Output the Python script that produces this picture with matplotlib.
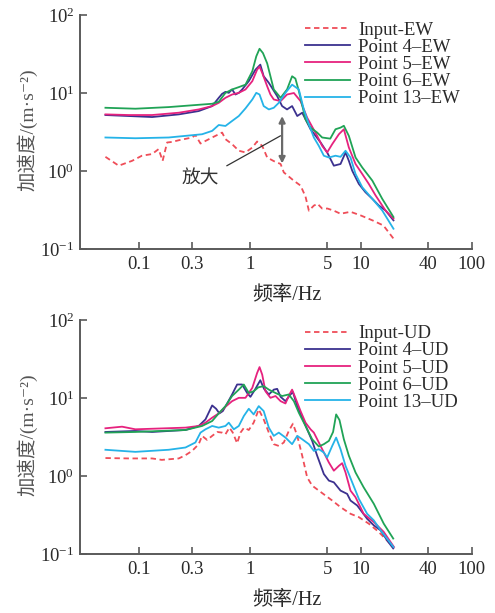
import matplotlib
matplotlib.use("Agg")
import matplotlib.pyplot as plt
from matplotlib.ticker import FixedLocator, FixedFormatter, NullLocator

plt.rcParams['font.family'] = ['Liberation Serif', 'Noto Sans CJK SC', 'DejaVu Sans']
plt.rcParams['mathtext.fontset'] = 'stix'

# ---------------- EW direction ----------------
f_in_ew = [0.0497, 0.0655, 0.0864, 0.106, 0.131, 0.150, 0.163, 0.179, 0.198, 0.228, 0.301, 0.322,
           0.358, 0.397, 0.456, 0.523, 0.561, 0.601, 0.690, 0.793, 0.911, 1.05, 1.16, 1.29, 1.43,
           1.64, 1.89, 2.02, 2.49, 2.86, 3.17, 3.40, 3.77, 4.07, 4.48, 5.01, 5.71, 6.56, 8.07,
           9.94, 13.0, 16.0, 19.7]
a_in_ew = [1.52, 1.17, 1.35, 1.57, 1.65, 1.91, 1.35, 2.32, 2.36, 2.48, 2.69, 2.90,
           2.25, 2.43, 2.69, 2.96, 3.11, 2.56, 2.21, 1.82, 1.73, 2.00, 2.39, 2.10, 1.49,
           1.34, 1.23, 0.96, 0.75, 0.65, 0.47, 0.31, 0.36, 0.38, 0.33, 0.33, 0.31, 0.283, 0.30,
           0.27, 0.23, 0.20, 0.136]

f_p4_ew = [0.0497, 0.0806, 0.131, 0.228, 0.345, 0.456, 0.523, 0.561, 0.601, 0.644, 0.690, 0.740,
           0.793, 0.850, 0.976, 1.12, 1.24, 1.33, 1.48, 1.76, 1.95, 2.16, 2.40, 2.67, 2.96,
           3.17, 3.52, 4.34, 4.97, 5.71, 6.56, 7.28, 7.80, 8.36, 9.60, 11.0, 12.7, 14.5,
           16.7, 19.7]
a_p4_ew = [5.22, 5.07, 4.92, 5.32, 5.87, 6.80, 8.68, 9.76, 10.35, 10.05, 11.1, 9.57,
           10.05, 11.1, 14.2, 19.9, 23.1, 16.4, 13.5, 9.11, 6.80, 6.16, 6.80, 5.07, 5.59,
           4.60, 3.43, 2.32, 1.73, 1.17, 1.23, 1.73, 1.35, 1.01, 0.683, 0.535, 0.440, 0.362,
           0.312, 0.233]

f_p5_ew = [0.0497, 0.0806, 0.131, 0.228, 0.345, 0.456, 0.523, 0.601, 0.690, 0.793, 0.911, 1.05,
           1.16, 1.22, 1.29, 1.43, 1.53, 1.64, 1.89, 2.16, 2.49, 2.86, 3.28, 4.04, 4.48,
           4.97, 5.52, 6.34, 7.03, 7.80, 8.96, 10.3, 11.8, 13.6, 16.7, 19.7]
a_p5_ew = [5.32, 5.22, 5.22, 5.59, 6.16, 6.80, 7.49, 8.68, 9.57, 10.05, 11.1, 14.2,
           19.9, 21.8, 18.1, 12.2, 9.57, 8.26, 7.87, 9.57, 10.0, 7.87, 4.83, 2.82, 2.10,
           1.73, 2.21, 2.96, 3.43, 2.00, 1.23, 0.916, 0.683, 0.485, 0.312, 0.245]

f_p6_ew = [0.0497, 0.0926, 0.185, 0.456, 0.523, 0.601, 0.690, 0.793, 0.911, 1.05, 1.14, 1.22,
           1.31, 1.43, 1.64, 1.89, 2.16, 2.40, 2.57, 2.76, 3.17, 3.52, 4.04, 4.48, 5.30,
           5.91, 6.56, 7.03, 7.80, 8.96, 10.3, 12.7, 15.6, 19.7]
a_p6_ew = [6.47, 6.29, 6.60, 7.28, 7.72, 10.05, 11.1, 11.9, 12.8, 19.0, 29.5, 36.9,
           32.5, 24.0, 11.1, 8.68, 11.1, 16.4, 15.3, 10.6, 4.60, 3.60, 3.11, 2.69, 2.60,
           3.43, 3.60, 3.80, 2.82, 1.49, 1.11, 0.753, 0.440, 0.257]

f_p13_ew = [0.0497, 0.0926, 0.185, 0.370, 0.456, 0.523, 0.601, 0.690, 0.793, 0.911, 1.05, 1.14,
            1.22, 1.33, 1.48, 1.64, 1.82, 2.09, 2.40, 2.76, 3.06, 3.40, 3.77, 4.18, 4.64,
            5.15, 5.91, 6.56, 7.28, 8.07, 8.96, 10.3, 12.7, 15.6, 19.7]
a_p13_ew = [2.69, 2.63, 2.69, 2.96, 3.27, 3.89, 3.78, 4.38, 5.07, 6.35, 8.26, 10.05,
            9.57, 6.80, 6.16, 6.47, 7.49, 10.05, 12.8, 11.1, 6.16, 3.97, 2.69, 2.10, 1.57,
            1.49, 1.57, 1.52, 1.82, 1.49, 0.916, 0.619, 0.440, 0.312, 0.182]

# ---------------- UD direction ----------------
f_in_ud = [0.0497, 0.0806, 0.131, 0.160, 0.228, 0.262, 0.301, 0.345, 0.370, 0.411, 0.456, 0.507,
           0.561, 0.601, 0.653, 0.700, 0.766, 0.822, 0.885, 0.976, 1.08, 1.20, 1.33, 1.48,
           1.64, 1.82, 2.02, 2.24, 2.44, 2.67, 2.96, 3.28, 3.64, 4.18, 4.80, 5.52, 6.56,
           8.07, 9.60, 11.8, 14.5, 19.7]
a_in_ud = [1.70, 1.68, 1.68, 1.61, 1.68, 1.85, 2.10, 2.56, 3.27, 2.90, 3.27, 3.67,
           3.60, 3.43, 4.17, 3.60, 2.63, 3.60, 4.17, 3.89, 4.83, 7.14, 5.32, 3.60,
           2.56, 2.43, 2.69, 3.78, 4.69, 3.27, 1.82, 0.962, 0.753, 0.650, 0.562, 0.485, 0.399,
           0.328, 0.297, 0.245, 0.192, 0.123]

f_p4_ud = [0.0497, 0.0926, 0.131, 0.262, 0.345, 0.397, 0.456, 0.495, 0.530, 0.569, 0.623, 0.690,
           0.766, 0.850, 0.943, 1.01, 1.12, 1.24, 1.34, 1.48, 1.64, 1.76, 1.89, 2.09, 2.32,
           2.44, 2.67, 2.96, 3.28, 3.64, 4.04, 4.64, 5.15, 5.71, 6.56, 7.53, 8.07, 9.27,
           11.4, 13.1, 15.1, 17.3, 19.6]
a_p4_ud = [3.67, 3.78, 3.67, 3.89, 4.38, 5.32, 8.03, 7.28, 6.35, 6.80, 8.51, 11.1,
           14.9, 14.9, 11.6, 10.35, 13.1, 16.9, 13.1, 11.1, 12.8, 13.1, 10.35, 9.11, 11.1,
           11.9, 7.87, 5.59, 3.97, 2.82, 1.82, 1.06, 0.873, 0.830, 0.650, 0.590, 0.485, 0.419,
           0.283, 0.233, 0.201, 0.149, 0.118]

f_p5_ud = [0.0497, 0.0702, 0.0926, 0.262, 0.345, 0.397, 0.456, 0.523, 0.601, 0.690, 0.793, 0.911,
           1.05, 1.16, 1.22, 1.29, 1.38, 1.53, 1.70, 1.89, 2.09, 2.27, 2.40, 2.57, 2.86,
           3.17, 3.52, 3.77, 4.18, 4.64, 5.15, 5.71, 6.34, 6.79, 7.28, 8.07, 8.96, 10.6,
           13.1, 16.1, 19.9]
a_p5_ud = [4.09, 4.29, 3.97, 4.17, 4.38, 4.83, 5.59, 6.35, 7.72, 9.11, 10.05, 10.05,
           13.5, 20.9, 24.9, 19.9, 12.2, 10.05, 10.6, 9.11, 8.51, 11.1, 12.8, 10.05, 6.80,
           4.83, 3.97, 3.60, 2.69, 2.00, 1.49, 1.17, 1.35, 1.46, 1.11, 0.650, 0.535, 0.328,
           0.257, 0.192, 0.123]

f_p6_ud = [0.0497, 0.0926, 0.262, 0.370, 0.456, 0.523, 0.601, 0.690, 0.793, 0.880, 0.976, 1.08,
           1.19, 1.33, 1.48, 1.70, 1.95, 2.24, 2.49, 2.76, 3.17, 3.64, 4.18, 4.64, 5.15,
           5.62, 5.99, 6.42, 7.03, 7.80, 8.96, 10.6, 13.1, 16.1, 19.6]
a_p6_ud = [3.60, 3.67, 3.89, 4.38, 5.07, 6.35, 7.87, 10.6, 12.8, 14.9, 11.6, 12.2,
           13.7, 14.2, 12.8, 11.6, 10.6, 11.1, 9.11, 6.47, 4.38, 2.96, 2.39, 2.56, 2.82,
           3.67, 6.16, 5.22, 2.96, 1.82, 1.11, 0.717, 0.440, 0.245, 0.158]

f_p13_ud = [0.0497, 0.0926, 0.185, 0.262, 0.322, 0.358, 0.397, 0.456, 0.523, 0.601, 0.644, 0.715,
            0.793, 0.880, 0.976, 1.08, 1.20, 1.33, 1.48, 1.64, 1.82, 2.09, 2.40, 2.67, 2.96,
            3.40, 3.77, 4.18, 4.64, 4.97, 5.52, 5.99, 6.56, 7.28, 8.36, 9.60, 11.4, 13.1,
            15.1, 19.7]
a_p13_ud = [2.17, 2.04, 2.17, 2.32, 2.69, 3.60, 3.97, 4.38, 4.17, 4.38, 4.83, 3.97,
            4.38, 5.87, 7.28, 6.16, 7.87, 6.80, 4.17, 3.27, 3.60, 3.11, 2.56, 3.27, 2.96,
            2.56, 2.10, 2.21, 2.00, 1.73, 2.43, 3.11, 2.21, 1.35, 0.830, 0.509, 0.328, 0.270,
            0.201, 0.123]

x_ticks = [0.1, 0.3, 1, 5, 10, 40, 100]
x_tick_labels = ['0.1', '0.3', '1', '5', '10', '40', '100']
y_ticks = [0.1, 1, 10, 100]

names_ew = ['Input-EW', 'Point 4–EW', 'Point 5–EW', 'Point 6–EW', 'Point 13–EW']
names_ud = ['Input-UD', 'Point 4–UD', 'Point 5–UD', 'Point 6–UD', 'Point 13–UD']
series_ew = [(f_in_ew, a_in_ew), (f_p4_ew, a_p4_ew), (f_p5_ew, a_p5_ew),
             (f_p6_ew, a_p6_ew), (f_p13_ew, a_p13_ew)]
series_ud = [(f_in_ud, a_in_ud), (f_p4_ud, a_p4_ud), (f_p5_ud, a_p5_ud),
             (f_p6_ud, a_p6_ud), (f_p13_ud, a_p13_ud)]

colors = ['#ef4d58', '#3c318f', '#e6227e', '#20a356', '#25b3e8']
styles = ['--', '-', '-', '-', '-']

spine_color = '#5a5a5a'
text_color = '#2a2a2a'

fig = plt.figure(figsize=(4.95, 6.13), dpi=100)
ax_top = fig.add_axes([0.1616, 0.5938, 0.7913, 0.3817])
ax_bot = fig.add_axes([0.1616, 0.0962, 0.7913, 0.3818])


def style_axis(ax, series, names, legend_y):
    for (f, a), name, c, ls in zip(series, names, colors, styles):
        ax.plot(f, a, color=c, ls=ls, lw=1.3, label=name,
                dashes=(3, 2) if ls == '--' else (None, None))
    ax.set_xscale('log')
    ax.set_yscale('log')
    ax.set_xlim(0.0293, 100)
    ax.set_ylim(0.1, 100)
    for side in ('top', 'right'):
        ax.spines[side].set_visible(False)
    for side in ('left', 'bottom'):
        ax.spines[side].set_color(spine_color)
        ax.spines[side].set_linewidth(1.4)
    ax.xaxis.set_major_locator(FixedLocator(x_ticks))
    ax.xaxis.set_major_formatter(FixedFormatter(x_tick_labels))
    ax.xaxis.set_minor_locator(NullLocator())
    ax.yaxis.set_major_locator(FixedLocator(y_ticks))
    ax.yaxis.set_minor_locator(NullLocator())
    ax.tick_params(axis='both', direction='in', length=5, width=1.2,
                   color=spine_color, labelsize=13.5, labelcolor=text_color)
    ax.tick_params(axis='x', pad=5)
    ax.tick_params(axis='y', pad=4)
    ax.set_xlabel('频率/Hz', fontsize=14.5, color=text_color)
    ax.xaxis.set_label_coords(0.528, -0.197)
    ax.xaxis.label.set_va('center')
    ax.set_ylabel('加速度/(m·s⁻²)', fontsize=14, color='#555555')
    ax.yaxis.set_label_coords(-0.135, 0.51)
    ax.yaxis.label.set_va('center')
    leg = ax.legend(loc='upper left', bbox_to_anchor=(0.574, legend_y), frameon=False,
                    fontsize=13.5, handlelength=2.4, handletextpad=0.45,
                    labelspacing=0.0, borderpad=0.0, borderaxespad=0.0)
    for t in leg.get_texts():
        t.set_color(text_color)


style_axis(ax_top, series_ew, names_ew, 0.972)
style_axis(ax_bot, series_ud, names_ud, 0.978)

# amplification marker between input and response at about 2 Hz
ax_top.annotate('', xy=(1.95, 5.06), xytext=(1.95, 1.25),
                arrowprops=dict(arrowstyle='<|-|>', color='#6a6a6a', lw=1.6,
                                mutation_scale=9, shrinkA=0, shrinkB=0))
ax_top.plot([0.62, 1.88], [1.17, 2.82], color='#333333', lw=0.9)
ax_top.text(0.36, 0.82, '放大', fontsize=13.5, color='#333333',
            ha='center', va='center', family=['Noto Sans CJK SC'])

fig.savefig('out.png', dpi=100)
